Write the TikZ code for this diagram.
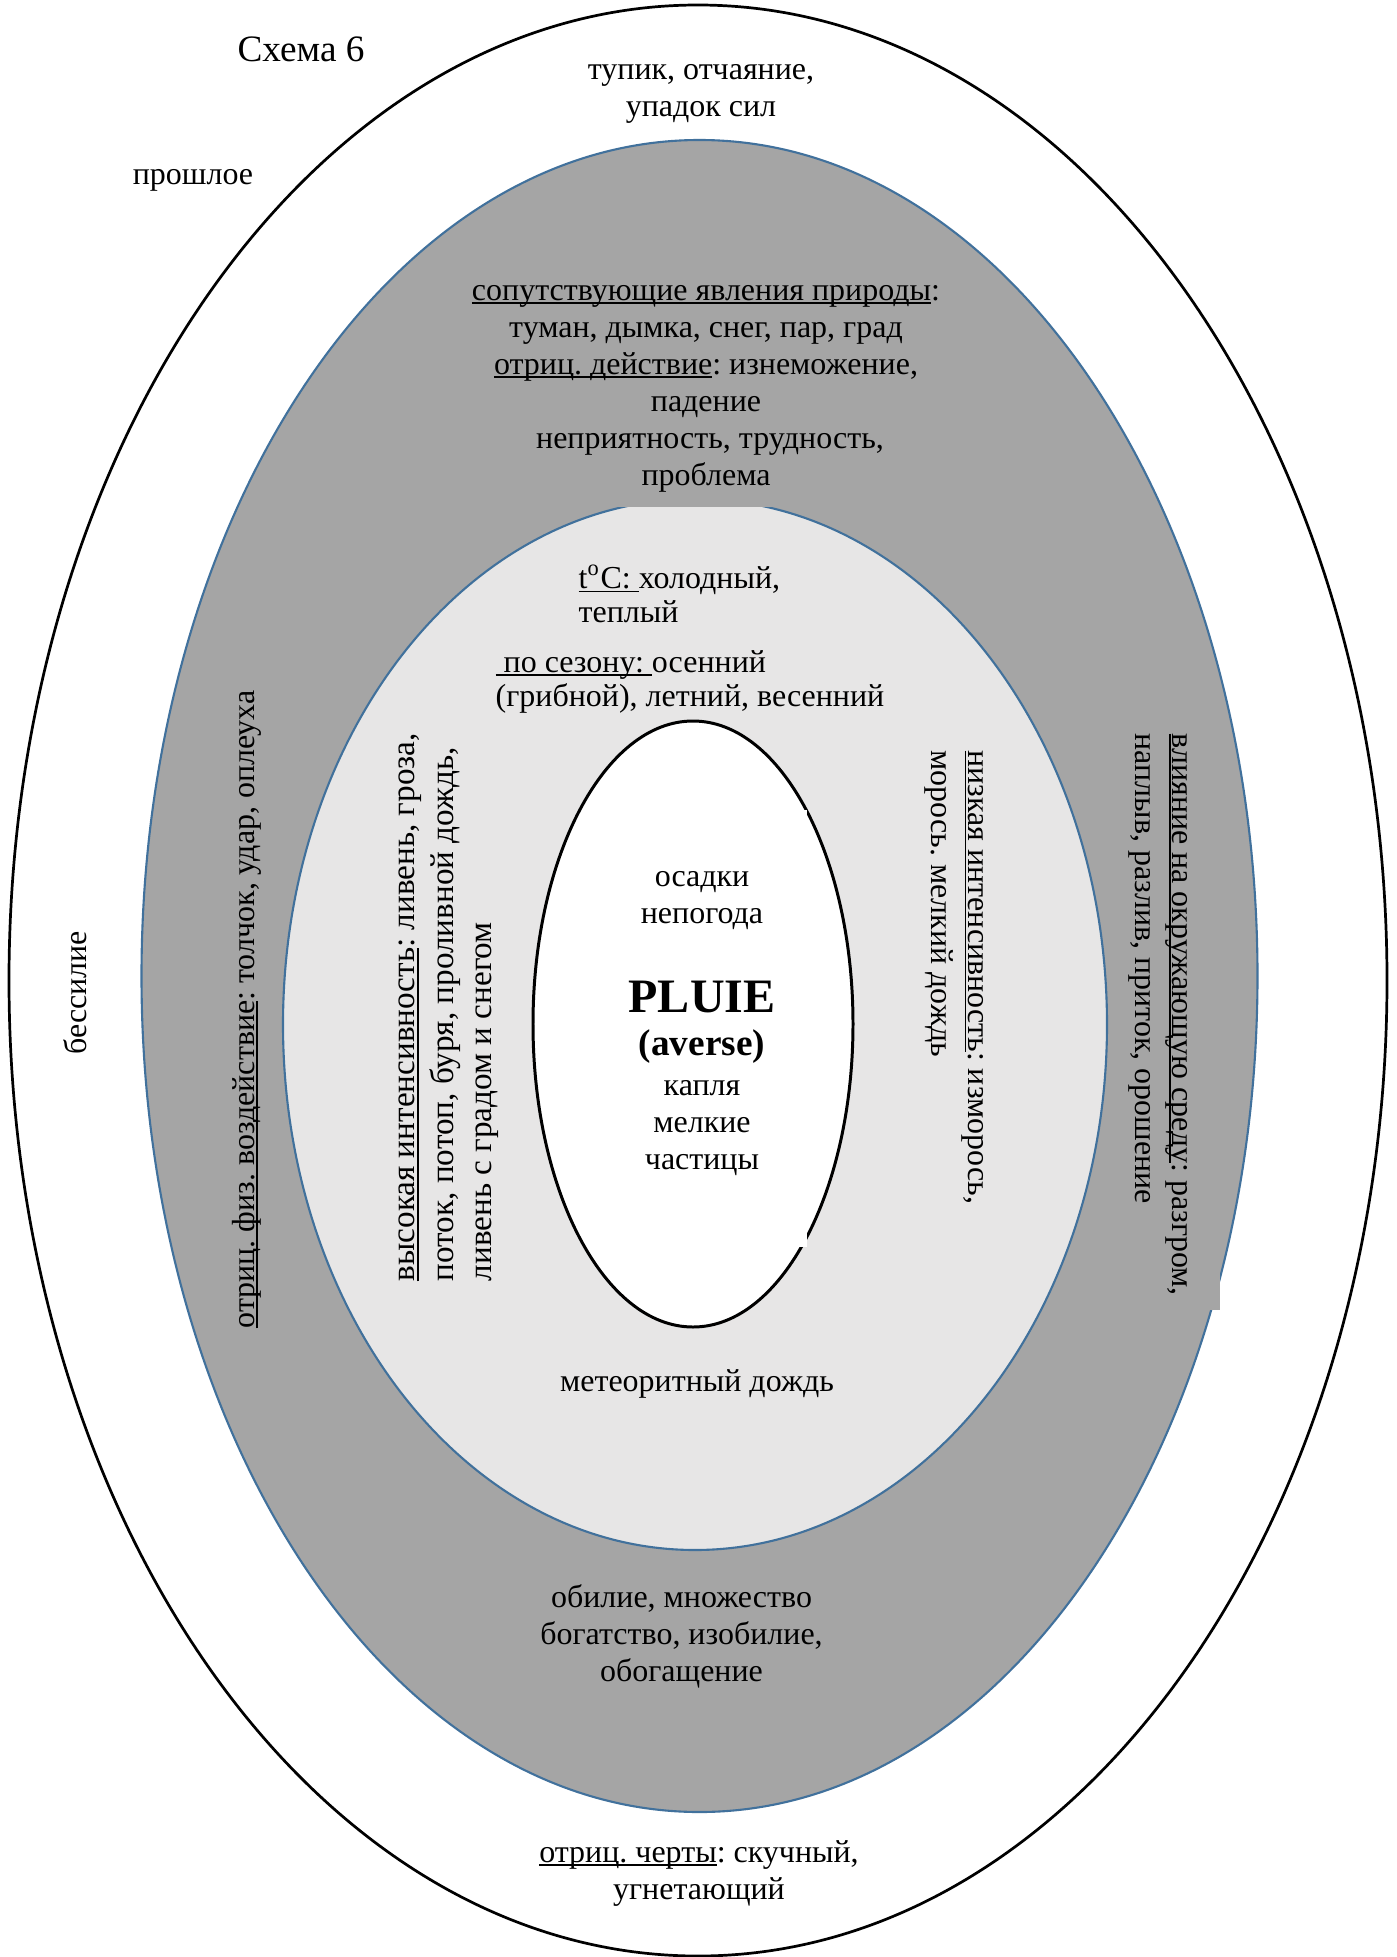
\documentclass[tikz,border=0pt]{standalone}
\usepackage{fontspec}
\setmainfont{Liberation Serif}

\definecolor{ringdark}{HTML}{A5A5A5}
\definecolor{ringlight}{HTML}{E7E6E6}
\definecolor{ringedge}{HTML}{41719C}

\newcommand\normtxt{\fontsize{9.1pt}{10.53pt}\selectfont}
\newcommand\widetxt{\fontsize{9.45pt}{10.9pt}\selectfont}
\newcommand\tighttxt{\fontsize{9.1pt}{9.67pt}\selectfont}
\newcommand\midtxt{\fontsize{10.6pt}{12pt}\selectfont}
\newcommand\bigtxt{\fontsize{13.66pt}{15pt}\selectfont}

\newsavebox\undlbox
\newcommand\undl[1]{\sbox\undlbox{#1}\rlap{\rule[-0.11em]{\wd\undlbox}{0.05em}}\usebox\undlbox}

\frenchspacing
\begin{document}
\begin{tikzpicture}[x=1cm, y=-1cm,
        txt/.style={inner sep=0pt, align=center, font=\normtxt},
        lefttxt/.style={inner sep=0pt, align=left, font=\normtxt},
        word/.style={inner sep=0pt, anchor=base, font=\normtxt}]
        \useasboundingbox (0,0) rectangle (13.96,19.57);
%        \draw [help lines] (0,0) grid (14,20);
        \draw [line width=0.77pt, fill=white] (6.98,9.805) ellipse [x radius=6.89, y radius=9.755];
        \draw [ringedge, line width=0.6pt, fill=ringdark] (6.995,9.76) ellipse [x radius=5.58, y radius=8.36];
        \fill [ringdark] (11.20,7.20) rectangle (12.20,13.10);
        \draw [ringedge, line width=0.6pt, fill=ringlight] (6.95,10.245) ellipse [x radius=4.12, y radius=5.255];
        \draw [line width=0.85pt, fill=white] (6.93,10.24) ellipse [x radius=1.60, y radius=3.03];
        \fill [white] (6.00,8.10) rectangle (8.07,12.47);

        \node (title) [word, font=\midtxt] at (3.01,0.61) {Схема 6};
        \node (deadend) [txt] at (7.01,0.935) {тупик, отчаяние,\\упадок сил};
        \node (past) [word] at (1.93,1.84) {прошлое};
        \node (weak) [word, rotate=90] at (0.86,9.93) {бессилие};

        \node (nature) [txt, fill=ringdark, anchor=south, inner xsep=0.1cm, inner ysep=0.15cm] at (7.06,5.08)
                {\undl{сопутствующие явления природы}:\\туман, дымка, снег, пар, град\\\undl{отриц. действие}: изнеможение,\\падение\\\hspace*{0.25em}неприятность, трудность,\\проблема};
        \node (impact) [lefttxt, rotate=90, anchor=base west] at (2.54,13.29) {\undl{отриц. физ. воздействие}: толчок, удар, оплеуха};
        \node (milieu) [lefttxt, rotate=-90, anchor=west] at (11.585,7.33)
                {\undl{влияние на окружающую среду}: разгром,\\наплыв, разлив, приток, орошение};

        \node (temp) [lefttxt, font=\tighttxt, anchor=west] at (5.78,5.94) {\undl{t\textsuperscript{o}C: }холодный,\\теплый};
        \node (season) [lefttxt, font=\tighttxt, anchor=west] at (4.95,6.815) {\undl{ по сезону: }осенний\\(грибной), летний, весенний};
        \node (high) [lefttxt, font=\widetxt, rotate=90, anchor=west] at (4.49,12.82)
                {\undl{высокая интенсивность}: ливень, гроза,\\поток, потоп, буря, проливной дождь,\\ливень с градом и снегом};
        \node (low) [lefttxt, rotate=-90, anchor=west] at (9.54,7.50) {\undl{низкая интенсивность}: изморось,\\морось. мелкий дождь};
        \node (meteor) [word] at (6.97,13.91) {метеоритный дождь};

        \node (osadki) [txt] at (7.02,9.01) {осадки\\непогода};
        \node (pluie) [word, font=\bigtxt\bfseries] at (7.02,10.12) {PLUIE};
        \node (averse) [word, font=\midtxt\bfseries] at (7.02,10.55) {(averse)};
        \node (kaplya) [txt] at (7.02,11.28) {капля\\мелкие\\частицы};

        \node (plenty) [txt] at (6.815,16.36) {обилие, множество\\богатство, изобилие,\\обогащение};
        \node (traits) [txt] at (6.99,18.73) {\undl{отриц. черты}: скучный,\\угнетающий};
\end{tikzpicture}
\end{document}
